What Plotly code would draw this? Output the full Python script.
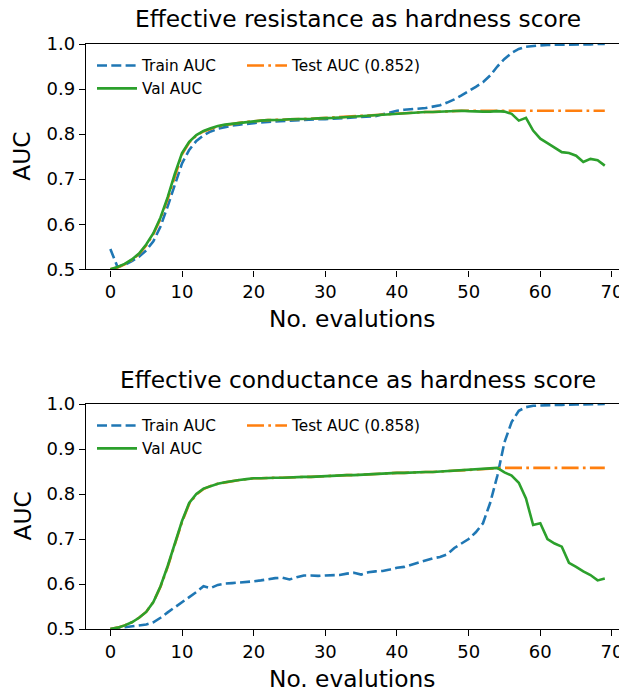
import plotly.graph_objects as go

# The page body has an 8px margin, so the figure is made 8px smaller and
# every reference-pixel position is shifted by OFF.
OFF = 8
W, H = 627 - OFF, 690 - OFF
ML, MR, MT, MB = 86 - OFF, 0, 44 - OFF, 690 - 629

epochs = list(range(70))

train_res = [0.545, 0.505, 0.510, 0.518, 0.528, 0.542, 0.562, 0.595, 0.640, 0.690,
             0.735, 0.765, 0.785, 0.797, 0.806, 0.812, 0.816, 0.819, 0.821, 0.823,
             0.825, 0.826, 0.827, 0.828, 0.829, 0.830, 0.830, 0.831, 0.832, 0.833,
             0.833, 0.834, 0.834, 0.835, 0.836, 0.837, 0.838, 0.840, 0.844, 0.848,
             0.852, 0.854, 0.855, 0.857, 0.858, 0.861, 0.864, 0.870, 0.877, 0.886,
             0.895, 0.905, 0.915, 0.930, 0.950, 0.967, 0.980, 0.989, 0.994, 0.996,
             0.997, 0.998, 0.998, 0.998, 0.999, 0.999, 0.999, 0.999, 1.000, 1.000]
val_res = [0.500, 0.505, 0.512, 0.522, 0.535, 0.555, 0.580, 0.615, 0.660, 0.712,
           0.758, 0.783, 0.798, 0.807, 0.813, 0.818, 0.821, 0.823, 0.825, 0.827,
           0.829, 0.830, 0.831, 0.831, 0.832, 0.833, 0.833, 0.834, 0.834, 0.835,
           0.835, 0.836, 0.837, 0.838, 0.839, 0.840, 0.841, 0.842, 0.843, 0.845,
           0.846, 0.847, 0.848, 0.848, 0.849, 0.849, 0.850, 0.851, 0.852, 0.852,
           0.851, 0.850, 0.850, 0.850, 0.851, 0.850, 0.845, 0.830, 0.836, 0.808,
           0.790, 0.780, 0.770, 0.760, 0.758, 0.752, 0.738, 0.745, 0.742, 0.730]
test_res = [0.500, 0.504, 0.511, 0.521, 0.534, 0.553, 0.578, 0.612, 0.656, 0.708,
            0.755, 0.781, 0.797, 0.806, 0.812, 0.817, 0.820, 0.823, 0.825, 0.827,
            0.829, 0.830, 0.831, 0.831, 0.832, 0.833, 0.833, 0.834, 0.834, 0.835,
            0.836, 0.836, 0.837, 0.838, 0.839, 0.840, 0.841, 0.842, 0.843, 0.845,
            0.846, 0.847, 0.848, 0.848, 0.849, 0.849, 0.850, 0.851, 0.852, 0.852,
            0.852, 0.852, 0.852, 0.852, 0.852, 0.852, 0.852, 0.852, 0.852, 0.852,
            0.852, 0.852, 0.852, 0.852, 0.852, 0.852, 0.852, 0.852, 0.852, 0.852]

train_con = [0.500, 0.502, 0.503, 0.505, 0.508, 0.510, 0.515, 0.525, 0.537, 0.548,
             0.560, 0.570, 0.582, 0.595, 0.591, 0.598, 0.601, 0.602, 0.603, 0.605,
             0.606, 0.608, 0.611, 0.613, 0.614, 0.610, 0.615, 0.619, 0.619, 0.618,
             0.619, 0.619, 0.620, 0.623, 0.625, 0.621, 0.626, 0.628, 0.629, 0.632,
             0.636, 0.638, 0.643, 0.648, 0.653, 0.657, 0.660, 0.666, 0.680, 0.690,
             0.700, 0.715, 0.735, 0.780, 0.840, 0.915, 0.960, 0.985, 0.993, 0.996,
             0.997, 0.998, 0.998, 0.998, 0.999, 0.999, 0.999, 0.999, 1.000, 1.000]
val_con = [0.500, 0.503, 0.508, 0.515, 0.525, 0.538, 0.560, 0.595, 0.640, 0.690,
           0.740, 0.780, 0.800, 0.812, 0.818, 0.823, 0.826, 0.829, 0.831, 0.833,
           0.835, 0.835, 0.836, 0.836, 0.836, 0.837, 0.837, 0.838, 0.838, 0.839,
           0.839, 0.840, 0.841, 0.842, 0.842, 0.843, 0.844, 0.845, 0.846, 0.846,
           0.847, 0.847, 0.848, 0.848, 0.849, 0.849, 0.850, 0.851, 0.852, 0.853,
           0.853, 0.854, 0.855, 0.856, 0.858, 0.848, 0.841, 0.825, 0.790, 0.731,
           0.735, 0.700, 0.690, 0.683, 0.647, 0.638, 0.628, 0.620, 0.608, 0.612]
test_con = [0.500, 0.503, 0.508, 0.515, 0.525, 0.538, 0.560, 0.594, 0.638, 0.688,
            0.738, 0.778, 0.799, 0.811, 0.818, 0.823, 0.826, 0.829, 0.831, 0.833,
            0.835, 0.835, 0.836, 0.836, 0.836, 0.837, 0.837, 0.838, 0.838, 0.839,
            0.839, 0.840, 0.841, 0.842, 0.842, 0.843, 0.844, 0.845, 0.846, 0.846,
            0.847, 0.847, 0.848, 0.848, 0.849, 0.849, 0.850, 0.851, 0.852, 0.853,
            0.853, 0.854, 0.855, 0.856, 0.858, 0.858, 0.858, 0.858, 0.858, 0.858,
            0.858, 0.858, 0.858, 0.858, 0.858, 0.858, 0.858, 0.858, 0.858, 0.858]

titles = ["Effective resistance as hardness score", "Effective conductance as hardness score"]
test_names = ["Test AUC (0.852)", "Test AUC (0.858)"]
x_label = "No. evalutions"
y_label = "AUC"
y_ticks = [0.5, 0.6, 0.7, 0.8, 0.9, 1.0]
x_ticks = [0, 10, 20, 30, 40, 50, 60, 70]

BLUE, ORANGE, GREEN = "#1f77b4", "#ff7f0e", "#2ca02c"
FONT = "DejaVu Sans"
LW = 2.6
TITLE_SIZE = 23.3

PH = H - MT - MB
PW = W - ML - MR
# helpers: reference window pixel -> paper fraction
def pyf(ypx):
    return (H - MB - (ypx - OFF)) / PH
def py(ypx):
    return min(1.0, max(0.0, pyf(ypx)))
def pxf(xpx):
    return ((xpx - OFF) - ML) / PW

# pixel frames (reference window coords) of the two panels
panels = [(44, 269.3), (404, 629)]

fig = go.Figure()
data = [(train_res, val_res, test_res), (train_con, val_con, test_con)]
for i, (tr, va, te) in enumerate(data):
    xa = "x" if i == 0 else "x2"
    ya = "y" if i == 0 else "y2"
    lg_a = "legend" if i == 0 else "legend3"
    lg_b = "legend2" if i == 0 else "legend4"
    fig.add_trace(go.Scatter(x=epochs, y=tr, mode="lines", name="Train AUC",
                             line=dict(color=BLUE, width=LW, dash="10px,4.3px"),
                             xaxis=xa, yaxis=ya, legend=lg_a, legendgroup=f"a{i}", legendrank=1))
    fig.add_trace(go.Scatter(x=epochs, y=te, mode="lines", name=test_names[i],
                             line=dict(color=ORANGE, width=LW, dash="17px,4.3px,2.7px,4.3px"),
                             xaxis=xa, yaxis=ya, legend=lg_b, legendgroup=f"c{i}"))
    fig.add_trace(go.Scatter(x=epochs, y=va, mode="lines", name="Val AUC",
                             line=dict(color=GREEN, width=LW),
                             xaxis=xa, yaxis=ya, legend=lg_a, legendgroup=f"b{i}", legendrank=2))

axis_common = dict(showline=True, linecolor="black", linewidth=1.4, mirror=True,
                   ticks="outside", ticklen=6, tickwidth=1.4, tickcolor="black",
                   showgrid=False, zeroline=False,
                   tickfont=dict(family=FONT, size=18, color="black"))

layout = dict(width=W, height=H, margin=dict(l=ML, r=MR, t=MT, b=MB),
              plot_bgcolor="white", paper_bgcolor="white", showlegend=True,
              font=dict(family=FONT, color="black"))
for i, (top, bot) in enumerate(panels):
    sfx = "" if i == 0 else "2"
    layout["xaxis" + sfx] = dict(axis_common, range=[-3.4, 72.1], tickvals=x_ticks,
                                 anchor="y" + sfx, domain=[0, 1])
    layout["yaxis" + sfx] = dict(axis_common, range=[0.5, 1.0], tickvals=y_ticks,
                                 tickformat=".1f", anchor="x" + sfx,
                                 domain=[py(bot), py(top)])

leg_common = dict(bgcolor="rgba(255,255,255,0)", borderwidth=0, itemwidth=40,
                  font=dict(family=FONT, size=15.3, color="black"), tracegroupgap=4,
                  xref="paper", yref="paper", xanchor="left", yanchor="top",
                  orientation="v", traceorder="normal")
for i, (top, bot) in enumerate(panels):
    la = "legend" if i == 0 else "legend3"
    lb = "legend2" if i == 0 else "legend4"
    layout[la] = dict(leg_common, x=pxf(92), y=pyf(top + 5))
    layout[lb] = dict(leg_common, x=pxf(242), y=pyf(top + 5))

anns = []
cx = (86 + 627) / 2 + 1
for i, (top, bot) in enumerate(panels):
    anns.append(dict(text=titles[i], x=pxf(cx), y=pyf(top - 25), xref="paper",
                     yref="paper", xanchor="center", yanchor="middle", showarrow=False,
                     font=dict(family=FONT, size=TITLE_SIZE, color="black")))
    anns.append(dict(text=x_label, x=pxf(cx - 6), y=pyf(bot + 49), xref="paper",
                     yref="paper", xanchor="center", yanchor="middle", showarrow=False,
                     font=dict(family=FONT, size=TITLE_SIZE, color="black")))
    anns.append(dict(text=y_label, x=pxf(22), y=pyf((top + bot) / 2), xref="paper",
                     yref="paper", xanchor="center", yanchor="middle", showarrow=False,
                     textangle=-90, font=dict(family=FONT, size=TITLE_SIZE, color="black")))
layout["annotations"] = anns

fig.update_layout(**layout)
fig.write_html("out.html")
